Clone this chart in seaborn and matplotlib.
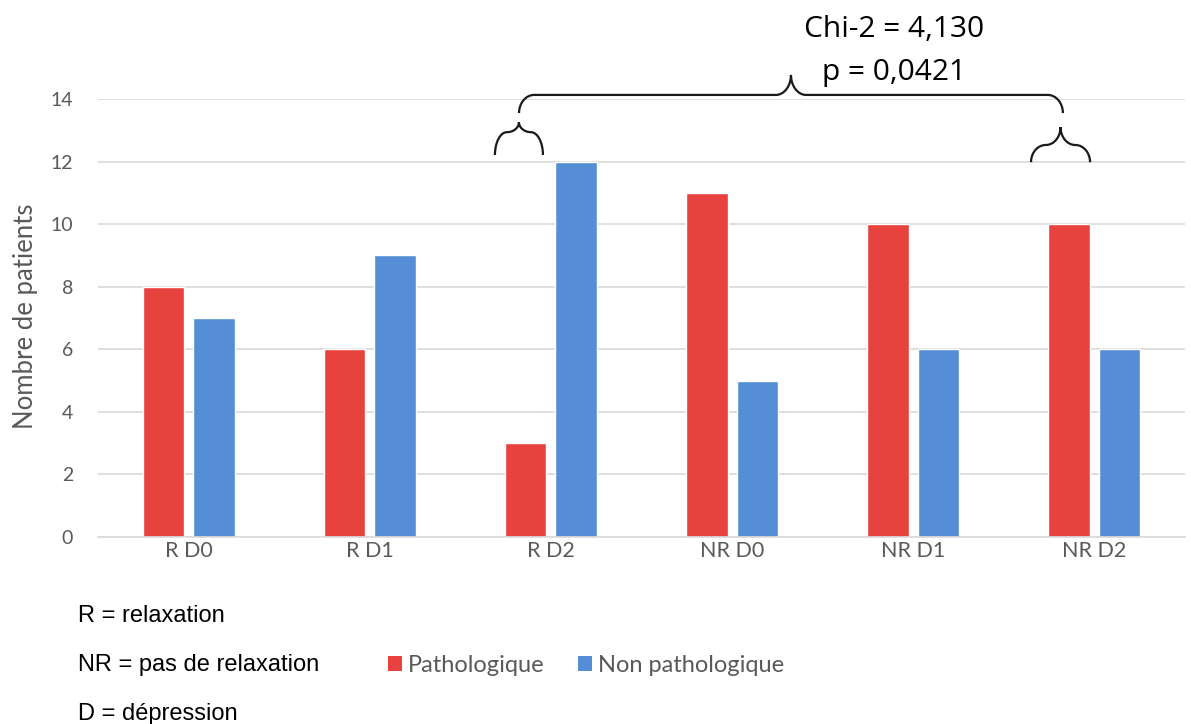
import numpy as np
import pandas as pd
import matplotlib
matplotlib.use("Agg")
import matplotlib.pyplot as plt
from matplotlib.path import Path
from matplotlib.patches import PathPatch, Patch
import seaborn as sns

categories = ["R D0", "R D1", "R D2", "NR D0", "NR D1", "NR D2"]
pathologique = [8, 6, 3, 11, 10, 10]
non_pathologique = [7, 9, 12, 5, 6, 6]
series_names = ["Pathologique", "Non pathologique"]
y_ticks = [0, 2, 4, 6, 8, 10, 12, 14]
chi_text = "Chi-2 = 4,130"
p_text = "p = 0,0421"
notes = ["R = relaxation", "NR = pas de relaxation", "D = dépression"]

colors = ["#E8423F", "#558ED5"]

df = pd.DataFrame({
    "cat": categories * 2,
    "val": pathologique + non_pathologique,
    "serie": [series_names[0]] * len(categories) + [series_names[1]] * len(categories),
})

sns.set_style("white")
plt.rcParams["font.family"] = ["Lato", "DejaVu Sans"]

W, H = 1191, 724
fig = plt.figure(figsize=(W / 100, H / 100), dpi=100)
ax = fig.add_axes([98 / W, 1 - 537 / H, (1185 - 98) / W, (537 - 99) / H])

sns.barplot(data=df, x="cat", y="val", hue="serie", palette=colors,
            width=0.558, gap=0.178, ax=ax, legend=False, saturation=1)

ax.set_ylim(0, 14)
ax.set_xlim(-0.5, len(categories) - 0.5)
ax.set_yticks(y_ticks)
ax.yaxis.grid(True, color="#D9D9D9", linewidth=1.2)
ax.set_axisbelow(True)
for s in ["top", "right", "left"]:
    ax.spines[s].set_visible(False)
ax.spines["bottom"].set_color("#D9D9D9")
ax.spines["bottom"].set_linewidth(1.2)
ax.tick_params(axis="both", length=0, colors="#595959")
ax.tick_params(axis="y", pad=18, labelsize=14)
ax.tick_params(axis="x", pad=3, labelsize=15.5)
ax.set_xlabel("")
ax.set_ylabel("Nombre de patients", fontsize=18.5, color="#595959")
ax.yaxis.set_label_coords(-0.055, 0.503)


def brace(ax, x0, x1, yb, ym, ytip, rx):
    xc = (x0 + x1) / 2
    k = 0.55
    verts = [
        (x0, yb),
        (x0, yb + (ym - yb) * k), (x0 + rx * (1 - k), ym), (x0 + rx, ym),
        (xc - rx, ym),
        (xc - rx * (1 - k), ym), (xc, ym + (ytip - ym) * (1 - k)), (xc, ytip),
        (xc, ym + (ytip - ym) * (1 - k)), (xc + rx * (1 - k), ym), (xc + rx, ym),
        (x1 - rx, ym),
        (x1 - rx * (1 - k), ym), (x1, yb + (ym - yb) * k), (x1, yb),
    ]
    codes = [Path.MOVETO,
             Path.CURVE4, Path.CURVE4, Path.CURVE4,
             Path.LINETO,
             Path.CURVE4, Path.CURVE4, Path.CURVE4,
             Path.CURVE4, Path.CURVE4, Path.CURVE4,
             Path.LINETO,
             Path.CURVE4, Path.CURVE4, Path.CURVE4]
    p = PathPatch(Path(verts, codes), fill=False, edgecolor="#1a1a1a",
                  linewidth=1.6, clip_on=False)
    ax.add_patch(p)


brace(ax, 1.824, 4.826, 13.55, 14.13, 14.77, 0.083)
brace(ax, 1.691, 1.956, 12.21, 12.94, 13.26, 0.066)
brace(ax, 4.650, 4.976, 11.98, 12.53, 13.10, 0.081)

fig.text(894 / W, 1 - 37 / H, chi_text, ha="center", va="baseline", fontsize=21.5,
         family=["Open Sans", "DejaVu Sans"], color="black")
fig.text(894 / W, 1 - 80 / H, p_text, ha="center", va="baseline", fontsize=21.5,
         family=["Open Sans", "DejaVu Sans"], color="black")

handles = [Patch(facecolor=c, edgecolor="none") for c in colors]
fig.legend(handles, series_names, loc="center left",
           bbox_to_anchor=(388 / W, 1 - 665 / H), ncol=2, frameon=False,
           borderpad=0, borderaxespad=0,
           fontsize=17, handlelength=0.6, handleheight=0.6, handletextpad=0.25,
           columnspacing=1.4, labelcolor="#595959")

for i, t in enumerate(notes):
    fig.text(78 / W, 1 - (622 + 49 * i) / H, t, ha="left", va="baseline",
             fontsize=17, family=["Liberation Sans", "DejaVu Sans"], color="black")

fig.savefig("out.png", dpi=100)
